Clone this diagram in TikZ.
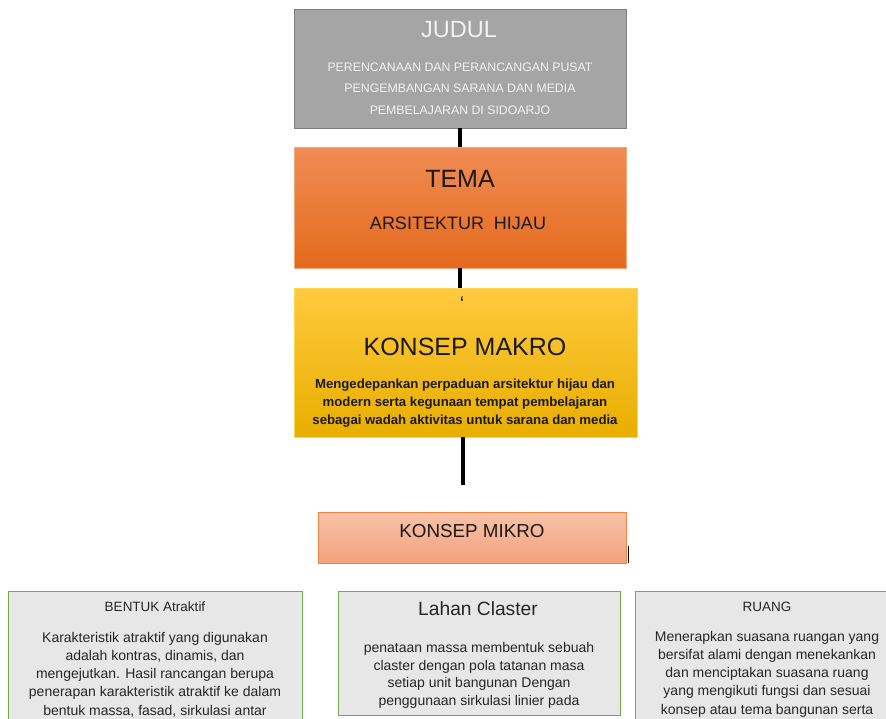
\documentclass[tikz,border=0pt]{standalone}
\usepackage{fontspec}
\setmainfont{Liberation Sans}
\definecolor{judulfill}{HTML}{A5A5A5}
\definecolor{juduldraw}{HTML}{7F7F7F}
\definecolor{judultext}{HTML}{F2F2F2}
\definecolor{tematop}{HTML}{F08C54}
\definecolor{temabot}{HTML}{E46A1C}
\definecolor{temadraw}{HTML}{F4A778}
\definecolor{makrotop}{HTML}{FFCA3E}
\definecolor{makrobot}{HTML}{E8AE00}
\definecolor{makrodraw}{HTML}{FFD54F}
\definecolor{mikrotop}{HTML}{F8C1A8}
\definecolor{mikrobot}{HTML}{F4A27D}
\definecolor{mikrodraw}{HTML}{F0853F}
\definecolor{cardfill}{HTML}{E7E7E7}
\definecolor{carddraw}{HTML}{70AD47}
\definecolor{darktext}{HTML}{1A1A1A}
\definecolor{cardtext}{HTML}{262626}
\begin{document}
\begin{tikzpicture}[x=1pt,y=-1pt,
  box/.style={draw, inner sep=0pt, outer sep=0pt, anchor=north west, line width=0.8pt},
  card/.style={box, fill=cardfill, draw=carddraw, line width=1pt},
  conn/.style={line width=4.5pt, black},
  bodytext/.style={align=center, text=darktext, inner sep=0pt},
  cardbody/.style={bodytext, anchor=north, text=cardtext}]
\useasboundingbox (0,0) rectangle (886,718);
\clip (0,0) rectangle (886,718);

% JUDUL
\node[box, fill=judulfill, draw=juduldraw, minimum width=332pt, minimum height=119pt] (judul) at (294,9) {};
\node[text=judultext, inner sep=0pt, font=\fontsize{23.5}{23.5}\selectfont] (judulT) at (459,29.5) {JUDUL};
\node[bodytext, text=judultext, font=\fontsize{12.3}{21.5}\selectfont] (judulB) at (460,88.5) {PERENCANAAN DAN PERANCANGAN PUSAT\\PENGEMBANGAN SARANA DAN MEDIA\\PEMBELAJARAN DI SIDOARJO};

% TEMA
\node[box, top color=tematop, bottom color=temabot, draw=temadraw, minimum width=332pt, minimum height=121pt] (tema) at (294,147) {};
\node[text=darktext, inner sep=0pt, font=\fontsize{25}{25}\selectfont] (temaT) at (460,178.5) {TEMA};
\node[text=darktext, inner sep=0pt, font=\fontsize{18}{18}\selectfont] (temaB) at (458,223) {ARSITEKTUR\ \ HIJAU};

% KONSEP MAKRO
\node[box, top color=makrotop, bottom color=makrobot, draw=makrodraw, minimum width=343pt, minimum height=149pt] (makro) at (294,288) {};
\node[text=darktext, inner sep=0pt, font=\fontsize{20}{20}\selectfont] (tick) at (462,304) {\symbol{96}};
\node[text=darktext, inner sep=0pt, font=\fontsize{25}{25}\selectfont] (makroT) at (465,347) {KONSEP MAKRO};
\node[bodytext, font=\fontsize{13.2}{18}\selectfont\bfseries] (makroB) at (465,403) {Mengedepankan perpaduan arsitektur hijau dan\\modern serta kegunaan tempat pembelajaran\\sebagai wadah aktivitas untuk sarana dan media};

% KONSEP MIKRO
\node[box, top color=mikrotop, bottom color=mikrobot, draw=mikrodraw, minimum width=308pt, minimum height=51pt] (mikro) at (318,512) {};
\node[text=darktext, inner sep=0pt, font=\fontsize{18.8}{18.8}\selectfont] (mikroT) at (472,531) {KONSEP MIKRO};
\coordinate (markTop) at (628,546);
\coordinate (markBot) at (628,563);
\draw[line width=1pt, black] (markTop) -- (markBot);

% connectors
\draw[conn] (judul.south) -- (tema.north);
\draw[conn] (tema.south) -- (tema.south |- makro.north);
\coordinate (makroEnd) at (463,485);
\draw[conn] (makroEnd |- makro.south) -- (makroEnd);

% bottom cards
\node[card, minimum width=294pt, minimum height=140pt] (bentuk) at (8,591) {};
\node[text=cardtext, inner sep=0pt, font=\fontsize{13.5}{13.5}\selectfont] (bentukT) at (155,606.5) {BENTUK Atraktif};
\node[cardbody, font=\fontsize{14}{18.2}\selectfont] (bentukB) at (155,632) {Karakteristik atraktif yang digunakan\\adalah kontras, dinamis, dan\\mengejutkan. Hasil rancangan berupa\\penerapan karakteristik atraktif ke dalam\\bentuk massa, fasad, sirkulasi antar};

\node[card, minimum width=282pt, minimum height=124pt] (lahan) at (338,591) {};
\node[text=cardtext, inner sep=0pt, font=\fontsize{19.2}{19.2}\selectfont] (lahanT) at (478,609) {Lahan Claster};
\node[cardbody, font=\fontsize{14}{17.7}\selectfont] (lahanB) at (479,642) {penataan massa membentuk sebuah\\claster dengan pola tatanan masa\\setiap unit bangunan Dengan\\penggunaan sirkulasi linier pada};

\node[card, minimum width=260pt, minimum height=140pt] (ruang) at (635,591) {};
\node[text=cardtext, inner sep=0pt, font=\fontsize{13.5}{13.5}\selectfont] (ruangT) at (767,606.5) {RUANG};
\node[cardbody, font=\fontsize{14}{18.2}\selectfont] (ruangB) at (767,631) {Menerapkan suasana ruangan yang\\bersifat alami dengan menekankan\\dan menciptakan suasana ruang\\yang mengikuti fungsi dan sesuai\\konsep atau tema bangunan serta};
\end{tikzpicture}
\end{document}
